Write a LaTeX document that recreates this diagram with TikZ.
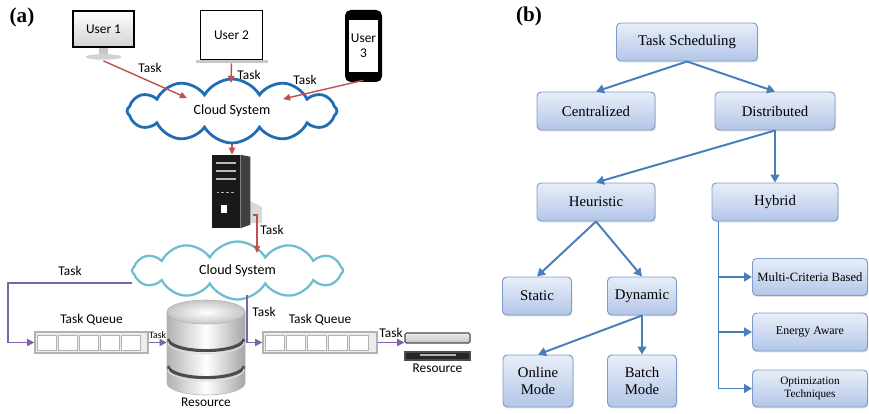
\documentclass[tikz,border=0pt]{standalone}
\usepackage{fontspec}
\setmainfont{Liberation Serif}
\newfontfamily\labelsans{Carlito}
\usepackage{xcolor}
\usepackage{tikz}
\usetikzlibrary{arrows.meta,positioning,shapes.symbols,shadows}
\definecolor{taskred}{HTML}{C0504D}
\definecolor{queueviolet}{HTML}{7F63A6}
\definecolor{clouddeep}{HTML}{1F6EB4}
\definecolor{cloudpale}{HTML}{6CBDD0}
\definecolor{boxedge}{HTML}{7F9BCB}
\definecolor{boxtop}{HTML}{E8EEF8}
\definecolor{boxbot}{HTML}{B3C6E7}
\definecolor{linkblue}{HTML}{4A7EBB}

\begin{document}
\begin{tikzpicture}[
    font=\labelsans\fontsize{9.5}{11}\selectfont,
    panel/.style={font=\rmfamily\bfseries\fontsize{15}{17}\selectfont},
    tbox/.style={draw=boxedge, line width=0.7pt, rounded corners=3pt,
      top color=boxtop, bottom color=boxbot, align=center, inner sep=1pt,
      minimum height=0.95cm, font=\rmfamily\fontsize{10.5}{12.5}\selectfont,
      drop shadow={opacity=0.25, shadow xshift=0.6pt, shadow yshift=-1pt}},
    link/.style={draw=linkblue, line width=1.4pt, -{Triangle[length=2mm, width=2.2mm]}},
    task/.style={draw=taskred, line width=1pt, -{Triangle[length=1.8mm, width=1.6mm]}},
    qarr/.style={draw=queueviolet, line width=1pt, -{Triangle[length=1.8mm, width=1.8mm]}},
    sky/.style={cloud, cloud puffs=12, cloud puff arc=120, cloud ignores aspect,
      fill=white, inner sep=0pt},
    qframe/.style={draw=gray!60, fill=gray!15, line width=0.9pt, inner sep=0pt,
      minimum width=2.825cm, minimum height=0.525cm},
    cell/.style={draw=gray!60, fill=white, line width=0.6pt, inner sep=0pt,
      minimum width=0.475cm, minimum height=0.375cm}]

  \useasboundingbox (0,0) rectangle (21.725,10.325);

  \node[panel] (pa) at (0.55,9.9) {(a)};
  \node[panel] (pb) at (13.225,9.925) {(b)};

  % users
  \node[draw=black, line width=1.6pt, top color=white, bottom color=gray!35,
    minimum width=1.52cm, minimum height=0.9cm] (u1) at (2.5875,9.6) {User 1};
  \fill[gray!45] ([xshift=-0.12cm]u1.south) rectangle ([xshift=0.12cm, yshift=-0.17cm]u1.south);
  \fill[gray!35] ([yshift=-0.22cm]u1.south) ellipse[x radius=0.45cm, y radius=0.07cm];
  \coordinate (u1foot) at ([yshift=-0.32cm]u1.south);

  \node[draw=black, line width=1.2pt, fill=white,
    minimum width=1.55cm, minimum height=1.22cm] (u2) at (5.7875,9.45) {User 2};
  \fill[gray!45] ([xshift=-0.9cm]u2.south) rectangle ([xshift=0.9cm, yshift=-0.08cm]u2.south);
  \coordinate (u2foot) at ([yshift=-0.08cm]u2.south);

  \fill[black, rounded corners=4pt] (8.625,8.275) rectangle (9.55,10.075);
  \node[fill=white, minimum width=0.725cm, minimum height=1.3cm, align=center,
    inner sep=0pt] (u3) at (9.0875,9.175) {User\\ 3};
  \coordinate (u3foot) at ([yshift=-0.2cm]u3.south);

  % first cloud and server
  \node[sky, draw=clouddeep, line width=2pt, minimum width=5.25cm,
    minimum height=1.6cm, font=\labelsans\fontsize{10}{12}\selectfont] (cl1) at (5.8,7.55) {Cloud System};
  \coordinate (c1a) at (4.675,7.875);
  \coordinate (c1b) at (5.775,8.25);
  \coordinate (c1c) at (7.075,7.85);

  \draw[task] (u1foot) -- (c1a);
  \node (tk1) at (3.75,8.625) {Task};
  \draw[task] (u2foot) -- (c1b);
  \node (tk2) at (6.225,8.45) {Task};
  \draw[task] (u3foot) -- (c1c);
  \node (tk3) at (7.625,8.325) {Task};

  \fill[gray!30] (6.0,4.75) -- (6.55,4.75) -- (6.55,5.15) -- (6.25,5.3) -- cycle;
  \node[fill=black!90, minimum width=0.7cm, minimum height=1.825cm,
    inner sep=0pt] (srv) at (5.65,5.5375) {};
  \fill[black!75] (srv.south east) -- (srv.north east) -- ++(0.25,-0.05)
    -- ++(0,-1.7) -- cycle;
  \foreach \h in {0.2,0.4,0.6}
    \draw[gray!55, line width=1.2pt] ([shift={(0.1,-\h)}]srv.north west) -- ([shift={(-0.1,-\h)}]srv.north east);
  \draw[gray!60, line width=0.8pt, dash pattern=on 2pt off 1.5pt]
    ([shift={(0.12,-0.95)}]srv.north west) -- ([shift={(-0.12,-0.95)}]srv.north east);
  \fill[white] (5.525,5.0) rectangle (5.675,5.2);
  \draw[task] (cl1.south) -- (cl1.south |- srv.north);

  % second cloud and queues
  \node[sky, draw=cloudpale, line width=1.6pt, minimum width=5.275cm,
    minimum height=1.45cm, font=\labelsans\fontsize{10}{12}\selectfont] (cl2) at (5.9375,3.5625) {Cloud System};
  \coordinate (srvout) at (6.325,4.95);
  \coordinate (c2in) at (6.425,4.0);
  \draw[task] (srvout) -| (c2in);
  \node (tk4) at (6.8,4.575) {Task};

  \node[qframe] (q1) at (2.2875,1.7625) {};
  \foreach \k in {0,...,4}
    \node[cell] (q1-\k) at ([xshift={0.3125cm+\k*0.525cm}]q1.west) {};
  \node[above=1pt of q1] (q1lbl) {Task Queue};

  \node[qframe, minimum width=2.85cm] (q2) at (8.0,1.7625) {};
  \foreach \k in {0,...,4}
    \node[cell] (q2-\k) at ([xshift={0.3125cm+\k*0.525cm}]q2.west) {};
  \node[above=1pt of q2] (q2lbl) {Task Queue};

  \coordinate (c2left) at (3.3,3.25);
  \coordinate (c2low) at (6.175,2.95);
  \draw[qarr] (c2left) -- ++(-3.1,0) |- (q1.west);
  \node (tk5) at (1.75,3.55) {Task};
  \draw[qarr] (c2low) |- (q2.west);
  \node (tk6) at (6.6,2.525) {Task};

  % disk stack
  \node[minimum width=1.95cm, minimum height=2.375cm] (db) at (5.15,1.6375) {};
  \shade[left color=gray!60, right color=gray!70, middle color=white]
    (4.175,2.525) -- (4.175,0.75) arc[start angle=180, end angle=360, x radius=0.975, y radius=0.3]
    -- (6.125,2.525) arc[start angle=0, end angle=180, x radius=0.975, y radius=0.3] -- cycle;
  \foreach \g in {1.85,1.175}{
    \draw[black!70, line width=2.2pt] (4.2,\g) arc[start angle=180, end angle=360, x radius=0.95, y radius=0.29];
    \draw[gray!25, line width=0.8pt] (4.2,\g-0.08) arc[start angle=180, end angle=360, x radius=0.95, y radius=0.29];
  }
  \shade[inner color=white, outer color=gray!45, draw=gray!60]
    (5.15,2.525) ellipse[x radius=0.975, y radius=0.3];
  \draw[gray!60] (4.175,2.525) -- (4.175,0.75) arc[start angle=180, end angle=360, x radius=0.975, y radius=0.3] -- (6.125,2.525);
  \node[below=-2pt of db] (dblbl) {Resource};
  \draw[qarr] (q1.east) -- (q1.east -| db.west)
    node[midway, above=-1pt, font=\labelsans\scriptsize] (tk7) {Task};

  % rack unit
  \node[draw=black!70, line width=0.8pt, top color=gray!15, bottom color=gray!45,
    rounded corners=1pt, minimum width=1.625cm, minimum height=0.25cm, inner sep=0pt] (rk) at (10.9375,1.875) {};
  \node[draw=black!70, line width=0.8pt, fill=black!85,
    minimum width=1.625cm, minimum height=0.2cm, inner sep=0pt] (rk2) at (10.9375,1.425) {};
  \fill[gray!60] ([xshift=-0.45cm]rk2.center) rectangle ([xshift=0.45cm, yshift=0.05cm]rk2.center);
  \node[below=-1pt of rk2] (rklbl) {Resource};
  \draw[qarr] (q2.east) -- (q2.east -| rk.west)
    node[midway, above=0pt] (tk8) {Task};

  % taxonomy
  \node[tbox, minimum width=3.525cm] (ts) at (17.175,9.275) {Task Scheduling};
  \node[tbox, minimum width=2.95cm] (cen) at (14.9,7.55) {Centralized};
  \node[tbox, minimum width=3cm] (dis) at (19.375,7.55) {Distributed};
  \node[tbox, minimum width=2.95cm] (heu) at (14.9,5.275) {Heuristic};
  \node[tbox, minimum width=3.15cm] (hyb) at (19.375,5.275) {Hybrid};
  \node[tbox, minimum width=1.725cm] (sta) at (13.425,2.925) {Static};
  \node[tbox, minimum width=1.725cm] (dyn) at (16.05,2.925) {Dynamic};
  \node[tbox, minimum width=1.75cm, minimum height=1.3cm] (onl) at (13.45,0.8) {Online\\ Mode};
  \node[tbox, minimum width=1.725cm, minimum height=1.3cm] (bat) at (16.05,0.8) {Batch\\ Mode};
  \node[tbox, minimum width=2.875cm, minimum height=0.925cm,
    font=\rmfamily\fontsize{9}{10}\selectfont] (mcb) at (20.25,3.4) {Multi-Criteria Based};
  \node[tbox, minimum width=2.875cm, minimum height=0.95cm,
    font=\rmfamily\fontsize{8.5}{10}\selectfont] (ene) at (20.25,2.025) {Energy Aware};
  \node[tbox, minimum width=2.875cm, minimum height=0.925cm,
    font=\rmfamily\fontsize{8}{9.5}\selectfont] (opt) at (20.25,0.6125) {Optimization\\ Techniques};

  \draw[link] (ts.south) -- (cen.north);
  \draw[link] (ts.south) -- (dis.north);
  \draw[link] (dis.south) -- (heu.north);
  \draw[link] (dis.south) -- (hyb.north);
  \draw[link] (heu.south) -- (sta.north);
  \draw[link] (heu.south) -- (dyn.north);
  \draw[link] (dyn.south) -- (onl.north);
  \draw[link] (dyn.south) -- (bat.north);

  \coordinate (spine) at ([xshift=0.175cm]hyb.south west);
  \draw[link, -] (spine) -- (spine |- opt.west);
  \foreach \b in {mcb,ene,opt}
    \draw[link] (spine |- \b.west) -- (\b.west);
\end{tikzpicture}
\end{document}
